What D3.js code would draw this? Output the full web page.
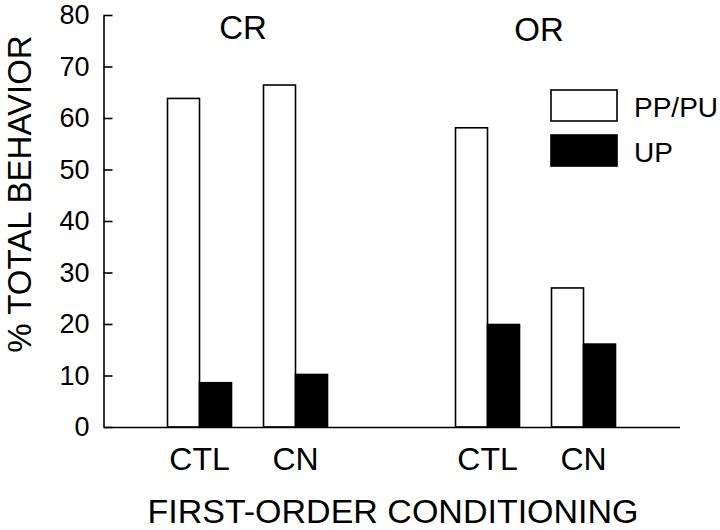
<!DOCTYPE html>
<html>
<head>
<meta charset="utf-8">
<script src="https://cdn.jsdelivr.net/npm/d3@7"></script>
<style>
  html, body { margin: 0; padding: 0; background: #fff; }
  svg { display: block; }
  text { font-family: "Liberation Sans", Arial, Helvetica, sans-serif; fill: #000; }
</style>
</head>
<body>
<div id="chart"></div>
<script>
// ---- data ----
const groups = ["CR", "OR"];
const conditions = ["CTL", "CN"];
const seriesNames = ["PP/PU", "UP"];
const ppPu = [63.8, 66.4, 58.1, 27.0];   // CR-CTL, CR-CN, OR-CTL, OR-CN
const up   = [8.6, 10.2, 19.9, 16.1];
const yTicks = [0, 10, 20, 30, 40, 50, 60, 70, 80];
const yTitle = "% TOTAL BEHAVIOR";
const xTitle = "FIRST-ORDER CONDITIONING";

// ---- layout ----
const W = 720, H = 530;
const svg = d3.select("#chart").append("svg").attr("width", W).attr("height", H);

const x = d3.scaleLinear().domain([-1, 5]).range([103.5, 679.5]);
const y = d3.scaleLinear().domain([0, 80]).range([427, 15]);
const barW = 32;
const color = d3.scaleOrdinal().domain(seriesNames).range(["#fff", "#000"]);

// rows
const rows = [];
groups.forEach((g, gi) => conditions.forEach((c, ci) => {
  const i = gi * conditions.length + ci;
  rows.push({ group: g, cond: c, slot: gi * 3 + ci, values: [ppPu[i], up[i]] });
}));

// bars
const bars = svg.append("g");
rows.forEach(r => {
  seriesNames.forEach((s, si) => {
    const v = r.values[si];
    const cx = x(r.slot);
    bars.append("rect")
      .attr("x", si === 0 ? cx - barW : cx)
      .attr("y", y(v))
      .attr("width", barW)
      .attr("height", y(0) - y(v))
      .attr("fill", color(s))
      .attr("stroke", "#000")
      .attr("stroke-width", 1.6);
  });
});

// y axis
const yAxis = d3.axisLeft(y).tickValues(yTicks).tickSizeInner(-9).tickSizeOuter(0).tickPadding(14);
const gy = svg.append("g").attr("transform", `translate(${x(-1)},0)`).call(yAxis);
gy.select(".domain").attr("stroke", "#000").attr("stroke-width", 1.6);
gy.selectAll(".tick line").attr("stroke", "#000").attr("stroke-width", 1.6);
gy.selectAll(".tick text").attr("font-size", 27).attr("fill", "#000")
  .style("font-family", '"Liberation Sans", Arial, sans-serif');

// x axis (baseline only)
const gx = svg.append("g").attr("transform", `translate(0,${y(0)})`)
  .call(d3.axisBottom(x).tickValues([]).tickSizeOuter(0));
gx.select(".domain").attr("stroke", "#000").attr("stroke-width", 1.6);

// condition labels
svg.append("g").selectAll("text").data(rows).join("text")
  .attr("x", d => x(d.slot))
  .attr("y", 470)
  .attr("text-anchor", "middle")
  .attr("font-size", 32)
  .text(d => d.cond);

// group labels
const groupDx = [-4.5, 3.5];
const groupBaseline = [39, 41];
svg.append("g").selectAll("text").data(groups).join("text")
  .attr("x", (d, i) => x(i * 3 + 0.5) + groupDx[i])
  .attr("y", (d, i) => groupBaseline[i])
  .attr("text-anchor", "middle")
  .attr("font-size", 33)
  .text(d => d);

// axis titles
svg.append("text")
  .attr("transform", `translate(31,194) rotate(-90)`)
  .attr("text-anchor", "middle")
  .attr("font-size", 33)
  .text(yTitle);

svg.append("text")
  .attr("x", 393)
  .attr("y", 523)
  .attr("text-anchor", "middle")
  .attr("font-size", 34)
  .text(xTitle);

// legend
const leg = svg.append("g").attr("transform", "translate(551,90)");
seriesNames.forEach((s, i) => {
  const gi = leg.append("g").attr("transform", `translate(0,${i * 45})`);
  gi.append("rect").attr("width", 66).attr("height", 31)
    .attr("fill", color(s)).attr("stroke", "#000").attr("stroke-width", 1.6);
  gi.append("text").attr("x", 83).attr("y", 27).attr("font-size", 28).text(s);
});
</script>
</body>
</html>
